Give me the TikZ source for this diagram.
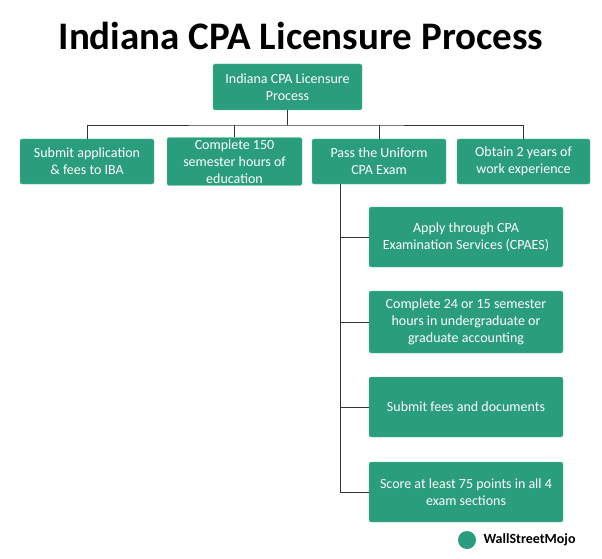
\documentclass[tikz,border=0pt]{standalone}
\usepackage{fontspec}
\setmainfont{Carlito}
\begin{document}
\begin{tikzpicture}[x=1pt,y=-1pt,
 box/.style={draw=green!30!teal!60,fill={rgb,255:red,42;green,157;blue,124},rounded corners=2pt,text=white,align=center,font=\fontsize{14}{17}\selectfont,inner sep=2pt},
 ln/.style={draw=black!80,line width=0.8pt}]
\useasboundingbox (0,0) rectangle (602,559);
\node[font=\bfseries\fontsize{39}{42}\selectfont] (title) at (301,36) {Indiana CPA Licensure Process};
\node[box,minimum width=149pt,minimum height=46pt] (top) at (287.5,87) {Indiana CPA Licensure\\Process};
\node[box,minimum width=134pt,minimum height=45pt] (b1) at (87,161.5) {Submit application\\\& fees to IBA};
\node[box,minimum width=135pt,minimum height=45pt] (b2) at (234.5,161.5) {Complete 150\\semester hours of\\education};
\node[box,minimum width=134pt,minimum height=45pt] (b3) at (379,161.5) {Pass the Uniform\\CPA Exam};
\node[box,minimum width=133pt,minimum height=45pt] (b4) at (523.5,161.5) {Obtain 2 years of\\work experience};
\node[box,minimum width=194pt,minimum height=60pt] (s1) at (466,237) {Apply through CPA\\Examination Services (CPAES)};
\node[box,minimum width=194pt,minimum height=62pt] (s2) at (466,322) {Complete 24 or 15 semester\\hours in undergraduate or\\graduate accounting};
\node[box,minimum width=194pt,minimum height=60pt] (s3) at (466,407) {Submit fees and documents};
\node[box,minimum width=194pt,minimum height=60pt] (s4) at (466,492) {Score at least 75 points in all 4\\exam sections};
\coordinate (bus) at (287.5,125);
\coordinate (trunk) at (340,184);
\draw[ln] (top.south) -- (bus);
\draw[ln] (b1.north) |- (bus) -| (b4.north);
\draw[ln] (b2.north) -- (b2.north |- bus);
\draw[ln] (b3.north) -- (b3.north |- bus);
\draw[ln] (trunk) -- (340,492) -- (s4.west);
\foreach \s in {s1,s2,s3} \draw[ln] (340,0 |- \s.west) -- (\s.west);
\node[circle,fill={rgb,255:red,42;green,157;blue,124},minimum size=18pt,inner sep=0] (logo) at (467,540) {};
\node[anchor=west,font=\bfseries\fontsize{14}{15}\selectfont] (wm) at (480,540) {WallStreetMojo};
\end{tikzpicture}
\end{document}
